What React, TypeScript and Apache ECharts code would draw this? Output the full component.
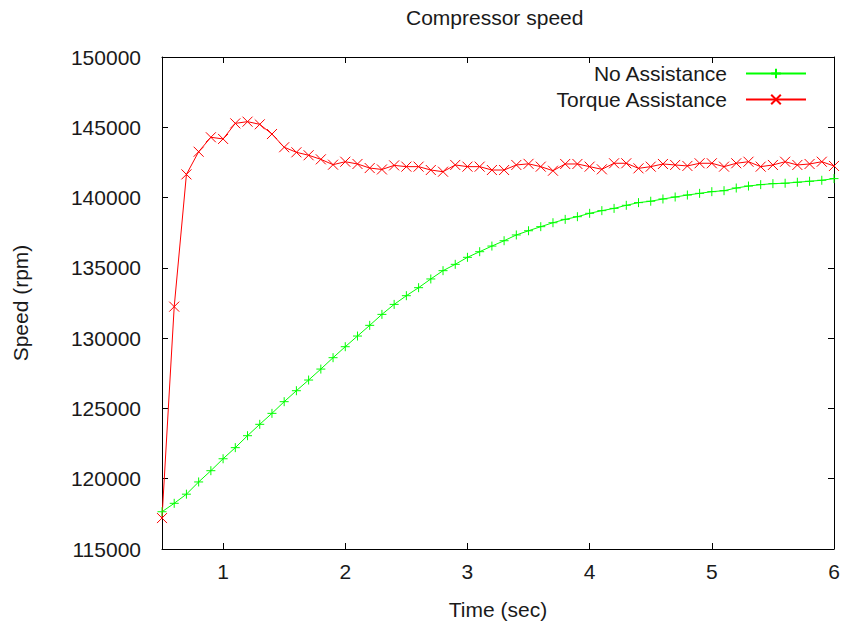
import React, { useEffect, useRef } from "react";
import * as echarts from "echarts";

const TIME_SEC = [
  0.5, 0.6, 0.7, 0.8, 0.9, 1.0, 1.1, 1.2, 1.3, 1.4, 1.5, 1.6, 1.7, 1.8, 1.9,
  2.0, 2.1, 2.2, 2.3, 2.4, 2.5, 2.6, 2.7, 2.8, 2.9, 3.0, 3.1, 3.2, 3.3, 3.4,
  3.5, 3.6, 3.7, 3.8, 3.9, 4.0, 4.1, 4.2, 4.3, 4.4, 4.5, 4.6, 4.7, 4.8, 4.9,
  5.0, 5.1, 5.2, 5.3, 5.4, 5.5, 5.6, 5.7, 5.8, 5.9, 6.0,
];

const NO_ASSISTANCE = [
  117650, 118250, 118900, 119770, 120570, 121420, 122210, 123060, 123870, 124650,
  125480, 126260, 127020, 127800, 128610, 129390, 130150, 130910, 131690, 132400,
  133020, 133590, 134210, 134800, 135250, 135750, 136150, 136550, 136930, 137340,
  137640, 137930, 138210, 138450, 138640, 138880, 139070, 139230, 139450, 139640,
  139740, 139900, 140040, 140180, 140300, 140420, 140490, 140680, 140820, 140920,
  140990, 141020, 141090, 141160, 141230, 141350,
];

const TORQUE_ASSISTANCE = [
  117200, 132240, 141650, 143260, 144290, 144170, 145280, 145400, 145210, 144520,
  143580, 143220, 143010, 142720, 142340, 142550, 142390, 142100, 142000, 142290,
  142200, 142200, 141960, 141840, 142320, 142200, 142200, 141960, 141960, 142320,
  142400, 142200, 141910, 142390, 142390, 142200, 142010, 142440, 142440, 142080,
  142200, 142390, 142320, 142250, 142440, 142440, 142200, 142440, 142550, 142200,
  142320, 142550, 142320, 142390, 142550, 142250,
];

const X_TICKS = [1, 2, 3, 4, 5, 6];
const X_MIN = 0.5;
const X_MAX = 6;
const Y_MIN = 115000;
const Y_MAX = 150000;
const Y_STEP = 5000;

const FONT = "Liberation Sans";
const TEXT_COLOR = "#1a1a1a";
const FONT_SIZE = 21;

const PLUS = "path://M0,5L10,5M5,0L5,10";
const CROSS = "path://M0,0L10,10M10,0L0,10";

export default function App() {
  const ref = useRef<HTMLDivElement>(null);

  useEffect(() => {
    if (!ref.current) return;
    const chart = echarts.init(ref.current, undefined, { renderer: "svg" });

    const axisLineStyle = { color: "#000", width: 1 };
    const legendCommon = {
      right: 33,
      orient: "horizontal" as const,
      align: "right" as const,
      itemWidth: 60,
      itemHeight: 12,
      selectedMode: false,
      textStyle: {
        fontFamily: FONT,
        fontSize: FONT_SIZE,
        color: TEXT_COLOR,
        padding: [0, 14, 0, 0],
      },
    };

    chart.setOption({
      animation: false,
      backgroundColor: "#fff",
      title: {
        text: "Compressor speed",
        left: 401,
        top: 2,
        textStyle: {
          fontFamily: FONT,
          fontSize: FONT_SIZE,
          fontWeight: "normal",
          color: TEXT_COLOR,
        },
      },
      legend: [
        { ...legendCommon, top: 58, data: ["No Assistance"] },
        { ...legendCommon, top: 84, data: ["Torque Assistance"] },
      ],
      grid: {
        left: 162,
        right: 11,
        top: 57,
        bottom: 80,
        containLabel: false,
        outerBoundsMode: "none",
      },
      xAxis: [
        {
          type: "value",
          min: X_MIN,
          max: X_MAX,
          position: "bottom",
          name: "Time (sec)",
          nameLocation: "middle",
          nameGap: 50,
          nameTextStyle: { fontFamily: FONT, fontSize: FONT_SIZE, color: TEXT_COLOR },
          axisLine: { show: true, lineStyle: axisLineStyle },
          axisTick: {
            show: true,
            inside: true,
            length: 6,
            customValues: X_TICKS,
            lineStyle: axisLineStyle,
          },
          axisLabel: {
            customValues: X_TICKS,
            fontFamily: FONT,
            fontSize: FONT_SIZE,
            color: TEXT_COLOR,
            margin: 12,
          },
          splitLine: { show: false },
        },
        {
          type: "value",
          min: X_MIN,
          max: X_MAX,
          position: "top",
          axisLine: { show: true, lineStyle: axisLineStyle },
          axisTick: {
            show: true,
            inside: true,
            length: 6,
            customValues: X_TICKS,
            lineStyle: axisLineStyle,
          },
          axisLabel: { show: false },
          splitLine: { show: false },
        },
      ],
      yAxis: [
        {
          type: "value",
          min: Y_MIN,
          max: Y_MAX,
          interval: Y_STEP,
          position: "left",
          name: "Speed (rpm)",
          nameLocation: "middle",
          nameGap: 131,
          nameRotate: 90,
          nameTextStyle: { fontFamily: FONT, fontSize: FONT_SIZE, color: TEXT_COLOR },
          axisLine: { show: true, lineStyle: axisLineStyle },
          axisTick: { show: true, inside: true, length: 6, lineStyle: axisLineStyle },
          axisLabel: {
            fontFamily: FONT,
            fontSize: FONT_SIZE,
            color: TEXT_COLOR,
            margin: 21,
            formatter: (v: number) => String(v),
          },
          splitLine: { show: false },
        },
        {
          type: "value",
          min: Y_MIN,
          max: Y_MAX,
          interval: Y_STEP,
          position: "right",
          axisLine: { show: true, lineStyle: axisLineStyle },
          axisTick: { show: true, inside: true, length: 6, lineStyle: axisLineStyle },
          axisLabel: { show: false },
          splitLine: { show: false },
        },
      ],
      series: [
        {
          name: "No Assistance",
          type: "line",
          xAxisIndex: 0,
          yAxisIndex: 0,
          data: TIME_SEC.map((t, i) => [t, NO_ASSISTANCE[i]]),
          symbol: PLUS,
          symbolSize: 9,
          showAllSymbol: true,
          color: "#00ff00",
          lineStyle: { color: "#00ff00", width: 1 },
          itemStyle: { color: "#00ff00", borderColor: "#00ff00", borderWidth: 1 },
          emphasis: { disabled: true },
        },
        {
          name: "Torque Assistance",
          type: "line",
          xAxisIndex: 0,
          yAxisIndex: 0,
          data: TIME_SEC.map((t, i) => [t, TORQUE_ASSISTANCE[i]]),
          symbol: CROSS,
          symbolSize: 10,
          showAllSymbol: true,
          color: "#ff0000",
          lineStyle: { color: "#ff0000", width: 1 },
          itemStyle: { color: "#ff0000", borderColor: "#ff0000", borderWidth: 1 },
          emphasis: { disabled: true },
        },
      ],
    });

    return () => chart.dispose();
  }, []);

  return (
    <div
      ref={ref}
      style={{ position: "fixed", left: 0, top: 0, width: 845, height: 629, background: "#fff" }}
    />
  );
}
